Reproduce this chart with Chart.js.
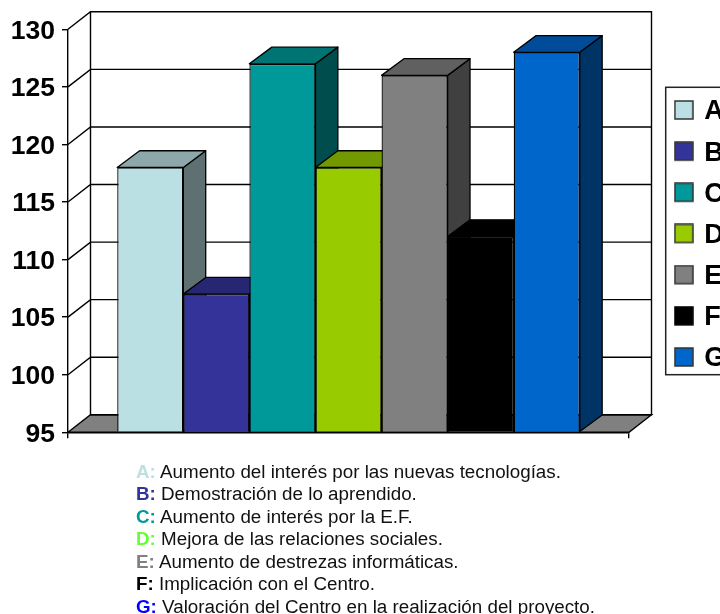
<!DOCTYPE html>
<html>
<head>
<meta charset="utf-8">
<script src="https://cdn.jsdelivr.net/npm/chart.js@4"></script>
<style>
html,body{margin:0;padding:0;background:#fff;width:720px;height:614px;overflow:hidden}
#wrap{position:relative;width:720px;height:614px}
canvas{position:absolute;left:0;top:0}
.cap{position:absolute;left:136px;font:18.8px "Liberation Sans",Arial,sans-serif;color:#111;white-space:pre;line-height:20px}
</style>
</head>
<body>
<div id="wrap"><canvas id="c" width="720" height="614"></canvas></div>
<script>
// ---- data ----
const categories = [""];
const seriesNames = ["A","B","C","D","E","F","G"];
const seriesValues = [118,107,127,118,126,112,128];
const yTicks = [95,100,105,110,115,120,125,130];
const captionKeys = ["A:","B:","C:","D:","E:","F:","G:"];
const captionTexts = [
  "Aumento del interés por las nuevas tecnologías.",
  "Demostración de lo aprendido.",
  "Aumento de interés por la E.F.",
  "Mejora de las relaciones sociales.",
  "Aumento de destrezas informáticas.",
  "Implicación con el Centro.",
  "Valoración del Centro en la realización del proyecto."
];
// ---- styles ----
const frontColors = ["#BBE0E3","#333399","#009999","#99CC00","#808080","#000000","#0066CC"];
const topColors   = ["#8CA8AA","#262673","#007373","#739900","#606060","#000000","#004C99"];
const sideColors  = ["#5E7072","#1A1A4D","#004D4D","#4D6600","#404040","#000000","#003366"];
const captionColors = ["#BBE0E3","#333399","#009999","#66FF33","#808080","#000000","#0000FF"];
const captionTops = [461.5,484,506.5,529,551.5,574,596.5];
const WALL = {dx:22.5, dy:17.5};
const BAR  = {dx:22.4, dy:16.7};
const FRAME = {left:665.7, top:87.3, bottom:374.7, right:735};
const LINE = "#000";

function swatch(i){
  const s = document.createElement("canvas");
  s.width = 20; s.height = 24;
  const g = s.getContext("2d");
  g.fillStyle = frontColors[i]; g.fillRect(1,1,18,18);
  g.strokeStyle = i===5 ? "#000" : "#333"; g.lineWidth = 1.5; g.strokeRect(1,1,18,18);
  return s;
}

function poly(ctx, pts, fill){
  ctx.beginPath();
  pts.forEach((p,i)=> i ? ctx.lineTo(p[0],p[1]) : ctx.moveTo(p[0],p[1]));
  ctx.closePath();
  if (fill){ ctx.fillStyle = fill; ctx.fill(); }
  ctx.stroke();
}

const box3d = {
  id:"box3d",
  afterLayout(chart){
    const l = chart.legend;
    l.left = 662.7; l.right = 760; l.top = 84.3; l.bottom = 400;
    l.width = l.right-l.left; l.height = l.bottom-l.top;
  },
  beforeDraw(chart){
    const {ctx, chartArea:a, scales:{y}} = chart;
    ctx.save();
    ctx.strokeStyle = LINE; ctx.lineWidth = 1.4;
    const base = y.getPixelForValue(yTicks[0]);
    // floor
    poly(ctx, [[a.left,base],[a.left+WALL.dx,base-WALL.dy],[a.right+WALL.dx,base-WALL.dy],[a.right,base]], "#808080");
    // back wall frame + grid lines wrapping round the left wall
    const topY = y.getPixelForValue(yTicks[yTicks.length-1]) - WALL.dy;
    ctx.beginPath();
    ctx.rect(a.left+WALL.dx, topY, a.right-a.left, base-WALL.dy-topY);
    yTicks.slice(1).forEach(v=>{
      const py = y.getPixelForValue(v);
      ctx.moveTo(a.left,py);
      ctx.lineTo(a.left+WALL.dx,py-WALL.dy);
      ctx.lineTo(a.right+WALL.dx,py-WALL.dy);
    });
    ctx.stroke();
    // legend frame
    ctx.strokeStyle = "#222"; ctx.lineWidth = 1.5;
    ctx.strokeRect(FRAME.left,FRAME.top,FRAME.right-FRAME.left,FRAME.bottom-FRAME.top);
    ctx.restore();
  },
  // sides and tops go in left-to-right order; the library then paints the fronts over them
  beforeDatasetsDraw(chart){
    const ctx = chart.ctx;
    ctx.save();
    ctx.strokeStyle = LINE; ctx.lineWidth = 1.3; ctx.lineJoin = "round";
    seriesValues.forEach((v,i)=>{
      const el = chart.getDatasetMeta(i).data[0];
      const {x,y,width,base} = el.getProps(["x","y","width","base"],true);
      const L = x-width/2, R = x+width/2;
      poly(ctx, [[R,y],[R+BAR.dx,y-BAR.dy],[R+BAR.dx,base-BAR.dy],[R,base]], sideColors[i]);
      poly(ctx, [[L,y],[L+BAR.dx,y-BAR.dy],[R+BAR.dx,y-BAR.dy],[R,y]], topColors[i]);
    });
    ctx.restore();
  }
};

new Chart(document.getElementById("c"), {
  type:"bar",
  data:{
    labels:categories,
    datasets:seriesNames.map((n,i)=>({
      label:n,
      data:[seriesValues[i]],
      base:yTicks[0],
      backgroundColor:frontColors[i],
      borderColor:LINE,
      borderWidth:1.3
    }))
  },
  options:{
    responsive:false,
    animation:false,
    layout:{padding:{left:0,right:91,top:29.3,bottom:181.7}},
    datasets:{bar:{categoryPercentage:0.8245,barPercentage:1}},
    scales:{
      x:{
        offset:true,
        afterFit(s){s.height=0;},
        ticks:{display:false},
        grid:{offset:true,drawOnChartArea:false,tickLength:6,color:LINE,lineWidth:1.4},
        border:{color:LINE,width:1.4}
      },
      y:{
        min:95,max:130,
        afterFit(s){s.width=68;},
        afterBuildTicks(s){s.ticks=yTicks.map(v=>({value:v}));},
        ticks:{color:"#000",padding:7,labelOffset:2,font:{family:'"Liberation Sans",Arial,sans-serif',size:26.5,weight:"bold"}},
        grid:{drawOnChartArea:false,tickLength:6,color:LINE,lineWidth:1.4},
        border:{color:LINE,width:1.4}
      }
    },
    plugins:{
      tooltip:{enabled:false},
      legend:{
        position:"chartArea",
        align:"start",
        labels:{
          usePointStyle:true,
          pointStyleWidth:13.9,
          padding:14.17,
          color:"#000",
          font:{family:'"Liberation Sans",Arial,sans-serif',size:27,weight:"bold"},
          generateLabels(chart){
            return chart.data.datasets.map((d,i)=>({
              text:d.label,fillStyle:frontColors[i],strokeStyle:LINE,lineWidth:1,
              pointStyle:swatch(i),hidden:false,datasetIndex:i
            }));
          }
        }
      }
    }
  },
  plugins:[box3d]
});

const wrap = document.getElementById("wrap");
captionKeys.forEach((k,i)=>{
  const d = document.createElement("div");
  d.className = "cap";
  d.style.top = captionTops[i]+"px";
  const b = document.createElement("b");
  b.textContent = k;
  b.style.color = captionColors[i];
  d.appendChild(b);
  d.appendChild(document.createTextNode(" "+captionTexts[i]));
  wrap.appendChild(d);
});
</script>
</body>
</html>
